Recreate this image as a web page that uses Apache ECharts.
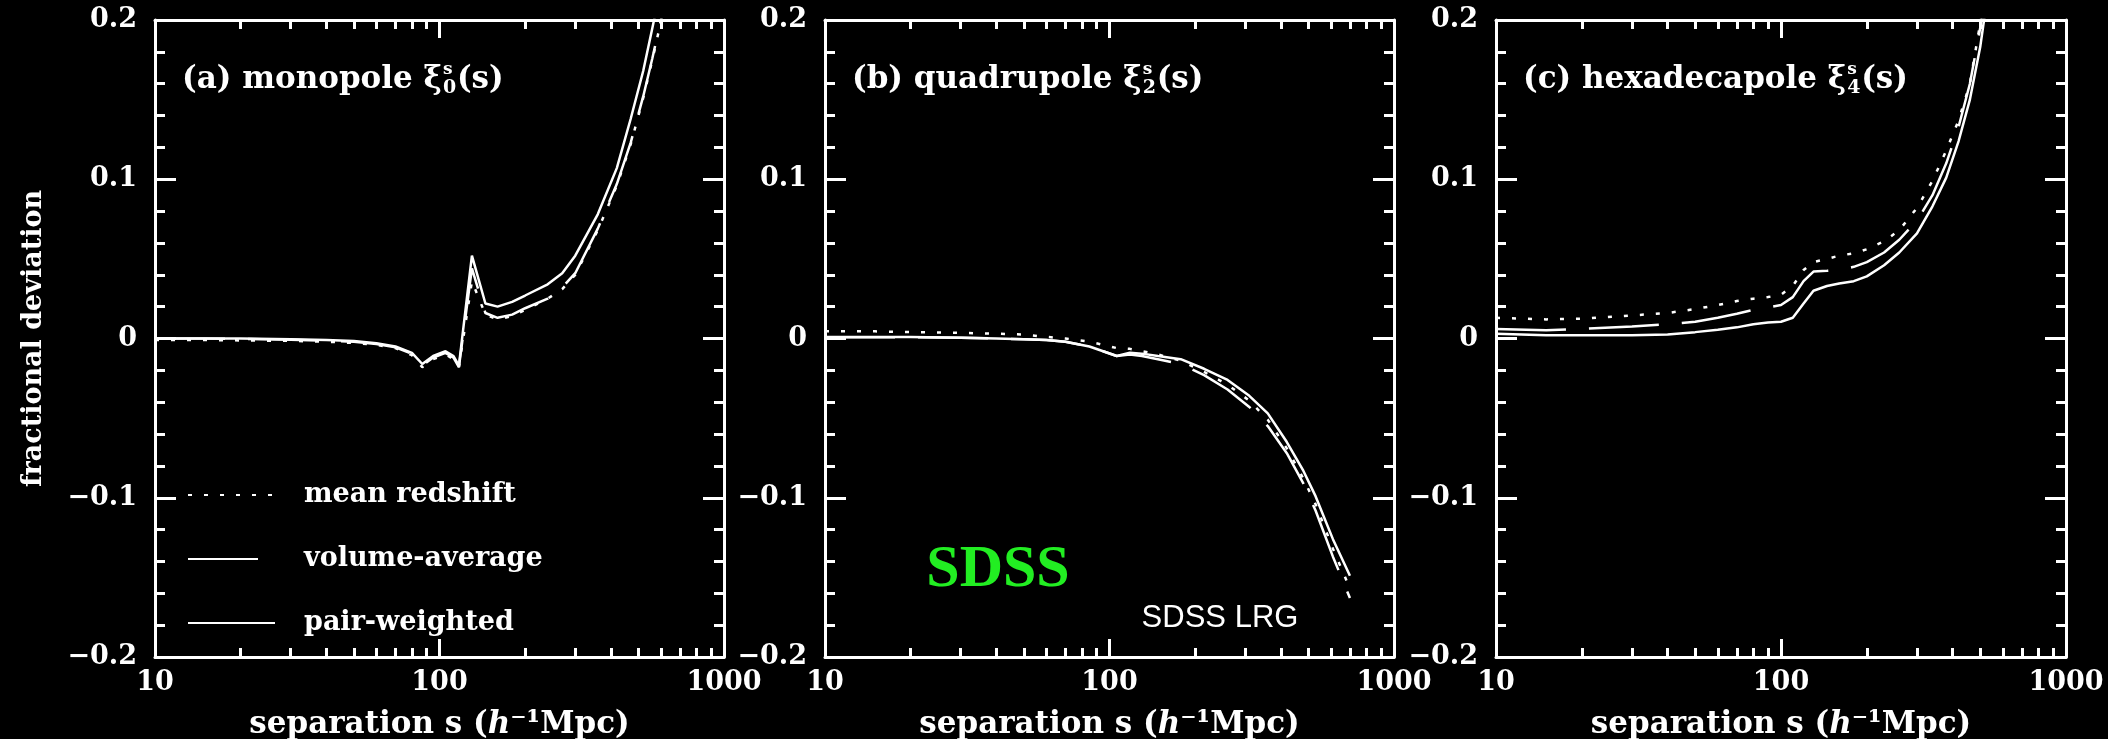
<!DOCTYPE html>
<html lang="en">
<head>
<meta charset="UTF-8">
<title>fractional deviation</title>
<style>
  html, body { margin: 0; padding: 0; background: #000; }
</style>
</head>
<body>
<div id="main" style="width: 2108px;height:739px;"></div>
<script src="https://cdn.jsdelivr.net/npm/echarts@6/dist/echarts.min.js"></script>
<script>
// separation s (h^-1 Mpc) sampled per panel
var sA = [10, 15, 20, 30, 40, 50, 60, 70, 80, 87, 95, 105, 112, 117, 130, 145, 160, 180, 200, 240, 270, 300, 360, 420, 470, 520, 560, 600, 650];
var meanA = [-0.001, -0.001, -0.0012, -0.0015, -0.002, -0.0028, -0.004, -0.006, -0.0105, -0.018, -0.013, -0.010, -0.013, -0.018, 0.036, 0.015, 0.012, 0.014, 0.018, 0.025, 0.031, 0.040, 0.068, 0.096, 0.122, 0.151, 0.175, 0.199, 0.228];
var volA = [0.000, 0.000, -0.0003, -0.0008, -0.0013, -0.002, -0.0035, -0.0055, -0.0095, -0.017, -0.012, -0.009, -0.012, -0.018, 0.044, 0.016, 0.013, 0.015, 0.019, 0.025, 0.032, 0.041, 0.069, 0.097, 0.123, 0.152, 0.176, 0.200, 0.230];
var pairA = [0.000, 0.000, 0.000, -0.0005, -0.001, -0.0015, -0.003, -0.005, -0.009, -0.016, -0.011, -0.008, -0.011, -0.017, 0.052, 0.022, 0.020, 0.023, 0.027, 0.034, 0.041, 0.052, 0.078, 0.107, 0.138, 0.168, 0.195, 0.220, 0.250];

var sB = [10, 15, 20, 30, 40, 50, 60, 70, 85, 95, 106, 118, 130, 148, 178, 215, 260, 310, 360, 420, 480, 530, 610, 700];
var meanB = [0.0045, 0.0045, 0.004, 0.0035, 0.003, 0.0025, 0.001, 0.000, -0.002, -0.004, -0.006, -0.0065, -0.008, -0.010, -0.014, -0.021, -0.029, -0.039, -0.051, -0.069, -0.088, -0.104, -0.132, -0.157];
var volB = [0.0008, 0.0008, 0.0008, 0.0004, 0.000, -0.0005, -0.001, -0.002, -0.005, -0.008, -0.011, -0.010, -0.011, -0.013, -0.016, -0.023, -0.032, -0.043, -0.055, -0.072, -0.091, -0.108, -0.137, -0.163];
var pairB = [0.001, 0.001, 0.001, 0.0005, 0.000, -0.0005, -0.001, -0.002, -0.005, -0.008, -0.011, -0.009, -0.0095, -0.011, -0.013, -0.019, -0.026, -0.036, -0.047, -0.065, -0.083, -0.099, -0.126, -0.149];

var sC = [10, 15, 20, 30, 40, 50, 60, 70, 80, 90, 100, 110, 120, 130, 145, 160, 180, 200, 230, 260, 300, 340, 380, 420, 460, 500, 540];
var meanC = [0.013, 0.012, 0.0125, 0.0145, 0.016, 0.0185, 0.021, 0.0235, 0.025, 0.026, 0.0275, 0.033, 0.043, 0.048, 0.050, 0.052, 0.0535, 0.056, 0.061, 0.068, 0.082, 0.099, 0.118, 0.137, 0.160, 0.198, 0.235];
var volC = [0.006, 0.0052, 0.006, 0.0075, 0.009, 0.0105, 0.013, 0.0155, 0.018, 0.0195, 0.021, 0.026, 0.036, 0.042, 0.0425, 0.043, 0.045, 0.048, 0.054, 0.062, 0.074, 0.090, 0.110, 0.133, 0.160, 0.195, 0.230];
var pairC = [0.003, 0.002, 0.002, 0.002, 0.0025, 0.004, 0.0055, 0.007, 0.009, 0.010, 0.0105, 0.013, 0.022, 0.030, 0.033, 0.0345, 0.036, 0.039, 0.046, 0.054, 0.066, 0.083, 0.101, 0.124, 0.150, 0.183, 0.225];

var xTicks = [10, 100, 1000];
var xTickLabels = ['10', '100', '1000'];
var yTicks = [-0.2, -0.1, 0, 0.1, 0.2];
var yTickLabels = ['\u22120.2', '\u22120.1', '0', '0.1', '0.2'];
var seriesNames = ['mean redshift', 'volume-average', 'pair-weighted'];
var panelTitles = ['(a) monopole \u03be', '(b) quadrupole \u03be', '(c) hexadecapole \u03be'];
var panelSubs = ['0', '2', '4'];

var FONT = 'DejaVu Serif';
var grids = [
  {left: 155, top: 20, width: 569, height: 637, outerBoundsMode: 'none'},
  {left: 825, top: 20, width: 569, height: 637, outerBoundsMode: 'none'},
  {left: 1496, top: 20, width: 570, height: 637, outerBoundsMode: 'none'}
];
var panels = [
  {s: sA, ys: [meanA, volA, pairA]},
  {s: sB, ys: [meanB, volB, pairB]},
  {s: sC, ys: [meanC, volC, pairC]}
];
var lineTypes = [[4, 12], [70, 23], 'solid'];

var myChart = echarts.init(document.getElementById('main'));

var white = {color: '#fff', width: 3};
var xAxes = [], yAxes = [], series = [], graphics = [];

function measure(str, font) {
  var ctx = document.createElement('canvas').getContext('2d');
  ctx.font = font;
  return ctx.measureText(str).width;
}
function pick(ticks, labels, v) {
  var k = ticks.findIndex(function (t) { return Math.abs(t - v) < 1e-6 * Math.max(1, Math.abs(t)); });
  return k >= 0 ? labels[k] : '';
}

grids.forEach(function (g, i) {
  [ 'bottom', 'top' ].forEach(function (pos) {
    xAxes.push({
      type: 'log', logBase: 10, min: 10, max: 1000, gridIndex: i, position: pos,
      axisLine: {onZero: false, lineStyle: white},
      axisTick: {inside: true, length: 18, lineStyle: white},
      minorTick: {show: true, splitNumber: 9, length: 9, lineStyle: white},
      splitLine: {show: false},
      axisLabel: {show: pos === 'bottom', color: '#fff', fontFamily: FONT, fontWeight: 'bold', fontSize: 27, margin: 12,
        formatter: function (v) { return pick(xTicks, xTickLabels, v); }},
      name: pos === 'bottom' ? 'separation s ({it|h}\u207b\u00b9Mpc)' : '',
      nameLocation: 'middle', nameGap: 52,
      nameTextStyle: {color: '#fff', fontFamily: FONT, fontWeight: 'bold', fontSize: 31,
        rich: {it: {fontStyle: 'italic', fontFamily: FONT, fontWeight: 'bold', fontSize: 31, color: '#fff'}}}
    });
  });
  [ 'left', 'right' ].forEach(function (pos) {
    yAxes.push({
      type: 'value', min: -0.2, max: 0.2, interval: 0.1, gridIndex: i, position: pos,
      axisLine: {onZero: false, lineStyle: white},
      axisTick: {inside: true, length: 21, lineStyle: white},
      minorTick: {show: true, splitNumber: 5, length: 10, lineStyle: white},
      splitLine: {show: false},
      axisLabel: {show: pos === 'left', color: '#fff', fontFamily: FONT, fontWeight: 'bold', fontSize: 27, margin: 18,
        formatter: function (v) { return pick(yTicks, yTickLabels, v); }},
      name: (i === 0 && pos === 'left') ? 'fractional deviation' : '',
      nameLocation: 'middle', nameGap: 108, nameRotate: 90,
      nameTextStyle: {color: '#fff', fontFamily: FONT, fontWeight: 'bold', fontSize: 27}
    });
  });
  var p = panels[i];
  seriesNames.forEach(function (name, k) {
    series.push({
      name: name, type: 'line', xAxisIndex: i * 2, yAxisIndex: i * 2,
      data: p.s.map(function (s, j) { return [s, p.ys[k][j]]; }),
      symbol: 'none', clip: true,
      lineStyle: {color: '#fff', width: 2.5, type: lineTypes[k]},
      itemStyle: {color: '#fff'}
    });
  });

  // panel title with stacked super/subscript
  var tFont = 'bold 31px "' + FONT + '"';
  var x0 = g.left + 27;
  var w = measure(panelTitles[i], tFont);
  graphics.push({type: 'text', x: x0, y: 80, style: {text: panelTitles[i], fill: '#fff',
    font: tFont, textAlign: 'left', textVerticalAlign: 'middle', align: 'left', verticalAlign: 'middle'}});
  graphics.push({type: 'text', x: x0 + w + 1, y: 70, style: {text: 's', fill: '#fff',
    font: 'bold 17px "' + FONT + '"', textAlign: 'left', textVerticalAlign: 'middle', align: 'left', verticalAlign: 'middle'}});
  graphics.push({type: 'text', x: x0 + w + 1, y: 88, style: {text: panelSubs[i], fill: '#fff',
    font: 'bold 19px "' + FONT + '"', textAlign: 'left', textVerticalAlign: 'middle', align: 'left', verticalAlign: 'middle'}});
  graphics.push({type: 'text', x: x0 + w + 15, y: 80, style: {text: '(s)', fill: '#fff',
    font: tFont, textAlign: 'left', textVerticalAlign: 'middle', align: 'left', verticalAlign: 'middle'}});
});

graphics.push({type: 'text', x: 998, y: 570, style: {text: 'SDSS', fill: '#22ee22',
  font: 'bold 60px "Liberation Serif"', textAlign: 'center', textVerticalAlign: 'middle', align: 'center', verticalAlign: 'middle'}});
graphics.push({type: 'text', x: 1220, y: 618, style: {text: 'SDSS LRG', fill: '#fff',
  font: '31px "Liberation Sans"', textAlign: 'center', textVerticalAlign: 'middle', align: 'center', verticalAlign: 'middle'}});

myChart.setOption({
  backgroundColor: '#000',
  animation: false,
  grid: grids,
  xAxis: xAxes,
  yAxis: yAxes,
  legend: {
    data: seriesNames,
    orient: 'vertical',
    left: 182, top: 475,
    itemWidth: 87, itemHeight: 14, itemGap: 34,
    inactiveColor: '#fff',
    itemStyle: {opacity: 0},
    textStyle: {color: '#fff', fontFamily: FONT, fontWeight: 'bold', fontSize: 27, padding: [0, 0, 0, 24], lineHeight: 30}
  },
  graphic: graphics,
  series: series
});
</script>
</body>
</html>
